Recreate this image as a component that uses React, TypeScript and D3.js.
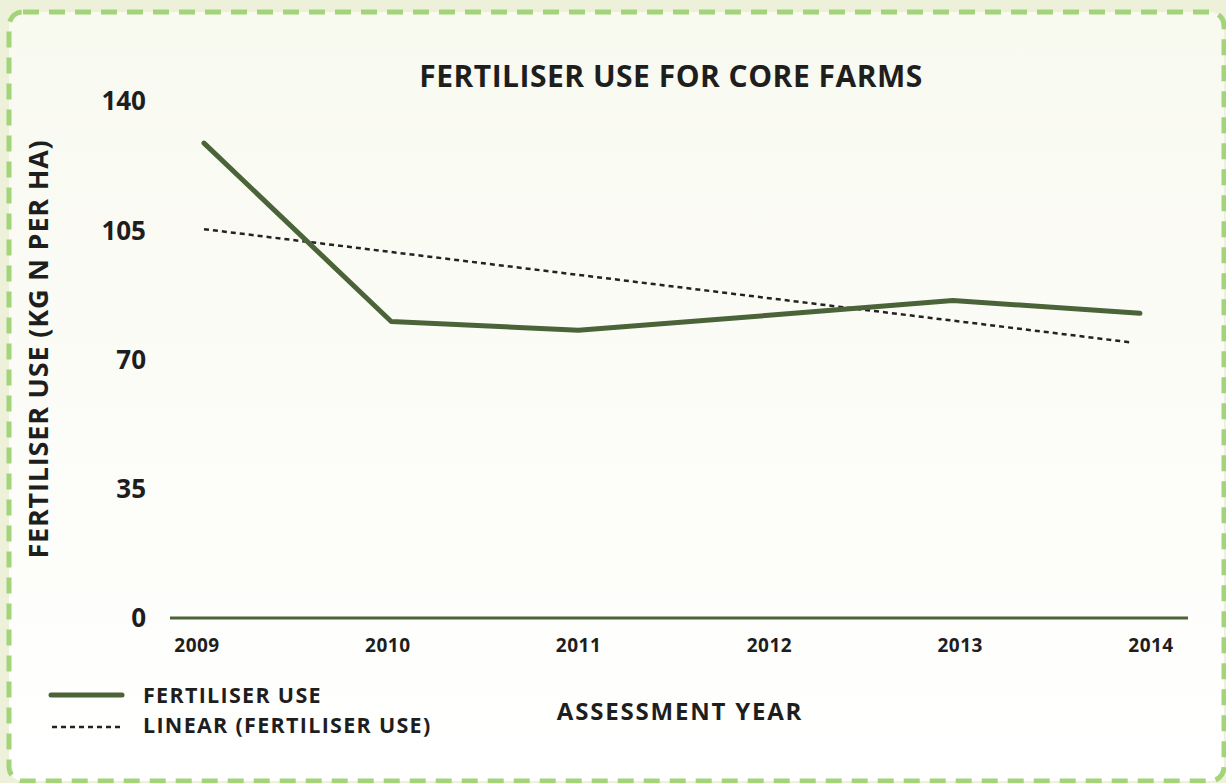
import React from 'react';
import * as d3 from 'd3';

// values
const years = ['2009', '2010', '2011', '2012', '2013', '2014'];
const fertiliserUse = [128.6, 80.3, 77.9, 81.9, 86.0, 82.5];
const trendYears = ['2009', '2014'];
const trendValues = [105.3, 74.6];
const yTicks = [0, 35, 70, 105, 140];

const W = 1226;
const H = 783;
const green = '#4b6339';
const ink = '#1e1e1e';
const font = '"Open Sans", Lato, sans-serif';

const App: React.FC = () => {
  // scales
  const x = d3.scalePoint<string>().domain(years).range([204, 1140]);
  const xLabel = x.copy().range([197, 1151]);
  const y = d3.scaleLinear().domain([0, 140]).range([618, 101]);

  const line = d3.line<number>()
    .x((_, i) => x(years[i])!)
    .y(d => y(d))
    .curve(d3.curveLinear);

  // trend line stops a little short of the last point in the original
  const trend = d3.line<number>()
    .x((_, i) => x(trendYears[i])! - (i === 1 ? 8 : 0))
    .y(d => y(d));

  return (
    <svg width={W} height={H} style={{ position: 'absolute', left: 0, top: 0 }}
      fontFamily={font} fontWeight={700}>
      <defs>
        <linearGradient id="card" x1="0" y1="0" x2="0" y2="1">
          <stop offset="0" stopColor="#f8f9ef" />
          <stop offset="1" stopColor="#ffffff" />
        </linearGradient>
      </defs>
      <rect x={0} y={0} width={W} height={H} fill="#eef1da" />
      <rect x={9} y={12} width={1215} height={769} rx={14} fill="url(#card)"
        stroke="#a3d47a" strokeWidth={5} strokeDasharray="16 10" />

      {/* title */}
      <text x={671} y={87} textAnchor="middle" fontSize={30} letterSpacing={0.5} fill={ink}>
        FERTILISER USE FOR CORE FARMS
      </text>

      {/* y axis */}
      {yTicks.map(t => (
        <text key={t} x={146} y={y(t)} dy="0.36em" textAnchor="end" fontSize={26} fill={ink}>
          {t}
        </text>
      ))}
      <text transform={`translate(48,349) rotate(-90)`} textAnchor="middle" fontSize={27}
        letterSpacing={0.8} fill={ink}>
        FERTILISER USE (KG N PER HA)
      </text>

      {/* x axis */}
      <line x1={170} x2={1188} y1={y(0)} y2={y(0)} stroke={green} strokeWidth={3} />
      {years.map(yr => (
        <text key={yr} x={xLabel(yr)} y={652} textAnchor="middle" fontSize={19}
          letterSpacing={0.5} fill={ink}>
          {yr}
        </text>
      ))}
      <text x={680} y={720} textAnchor="middle" fontSize={24} letterSpacing={1.8} fill={ink}>
        ASSESSMENT YEAR
      </text>

      {/* series */}
      <path d={trend(trendValues) ?? ''} fill="none" stroke="#222" strokeWidth={2.5} strokeDasharray="5 4" />
      <path d={line(fertiliserUse) ?? ''} fill="none" stroke={green} strokeWidth={5}
        strokeLinecap="round" strokeLinejoin="round" />

      {/* legend */}
      <line x1={51} x2={122} y1={695} y2={695} stroke={green} strokeWidth={5} strokeLinecap="round" />
      <text x={143} y={703} fontSize={21.5} letterSpacing={1.3} fill={ink}>FERTILISER USE</text>
      <line x1={52} x2={120} y1={727} y2={727} stroke="#222" strokeWidth={2.5} strokeDasharray="5 4" />
      <text x={143} y={733} fontSize={21.5} letterSpacing={1.3} fill={ink}>LINEAR (FERTILISER USE)</text>
    </svg>
  );
};

export default App;
